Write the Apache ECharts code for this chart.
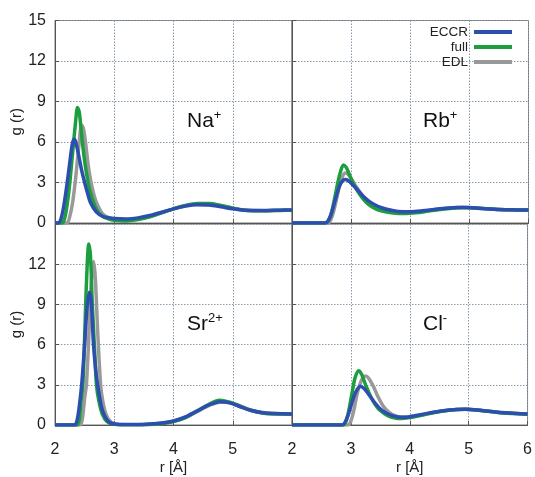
<!DOCTYPE html>
<html><head><meta charset="utf-8">
<script src="https://cdn.jsdelivr.net/npm/echarts@6/dist/echarts.min.js"></script>
<style>html,body{margin:0;padding:0;background:#fff}#c{width:535px;height:477px}</style>
</head><body><div id="c"></div>
<script>
// ---- data: [r (Å), g(r)] ----
const seriesNames = ['ECCR', 'full', 'EDL'];
const panelLabels = ['Na', 'Rb', 'Sr', 'Cl'];
const panelCharges = ['+', '+', '2+', '-'];
const xTicks = [2, 3, 4, 5, 6];
const yTicks = [0, 3, 6, 9, 12, 15];

const na_eccr = [[2.0,0],[2.05,0],[2.1,0.3],[2.15,1.3],[2.2,2.8],[2.25,4.5],[2.29,5.8],[2.32,6.2],[2.35,6.0],[2.4,5.0],[2.45,3.9],[2.5,3.0],[2.55,2.2],[2.6,1.5],[2.7,0.8],[2.8,0.5],[2.9,0.4],[3.0,0.33],[3.2,0.3],[3.4,0.38],[3.6,0.55],[3.8,0.8],[4.0,1.05],[4.2,1.25],[4.4,1.35],[4.6,1.33],[4.8,1.2],[5.0,1.05],[5.2,0.95],[5.5,0.92],[5.8,0.95],[6.0,0.96]];
const na_full = [[2.0,0],[2.12,0],[2.16,0.3],[2.2,1.2],[2.25,3.0],[2.3,5.3],[2.35,7.6],[2.38,8.55],[2.41,8.2],[2.45,6.5],[2.5,4.6],[2.55,3.2],[2.6,2.2],[2.7,1.0],[2.8,0.5],[2.9,0.3],[3.0,0.2],[3.2,0.15],[3.4,0.25],[3.6,0.45],[3.8,0.75],[4.0,1.05],[4.2,1.3],[4.4,1.45],[4.6,1.45],[4.8,1.3],[5.0,1.1],[5.2,0.95],[5.5,0.9],[5.8,0.93],[6.0,0.95]];
const na_edl = [[2.0,0],[2.2,0],[2.25,0.5],[2.3,1.6],[2.35,3.4],[2.4,5.6],[2.45,7.25],[2.48,7.0],[2.52,5.8],[2.56,4.3],[2.6,3.2],[2.65,2.2],[2.7,1.5],[2.8,0.7],[2.9,0.4],[3.0,0.28],[3.2,0.2],[3.4,0.28],[3.6,0.48],[3.8,0.78],[4.0,1.05],[4.2,1.28],[4.4,1.4],[4.6,1.4],[4.8,1.28],[5.0,1.1],[5.2,0.96],[5.5,0.91],[5.8,0.94],[6.0,0.95]];

const rb_eccr = [[2.0,0],[2.55,0],[2.6,0.1],[2.65,0.5],[2.7,1.2],[2.75,2.0],[2.8,2.7],[2.85,3.1],[2.9,3.23],[2.95,3.15],[3.0,2.95],[3.1,2.5],[3.2,2.0],[3.3,1.62],[3.4,1.35],[3.5,1.15],[3.6,1.02],[3.7,0.93],[3.8,0.86],[4.0,0.84],[4.2,0.9],[4.4,1.0],[4.6,1.1],[4.8,1.15],[5.0,1.14],[5.2,1.08],[5.5,1.0],[5.8,0.97],[6.0,0.96]];
const rb_full = [[2.0,0],[2.58,0],[2.62,0.2],[2.67,0.8],[2.72,1.8],[2.77,2.9],[2.82,3.8],[2.87,4.3],[2.92,4.1],[2.97,3.6],[3.05,2.8],[3.15,2.1],[3.25,1.55],[3.35,1.2],[3.45,0.98],[3.6,0.82],[3.75,0.72],[3.9,0.7],[4.1,0.76],[4.3,0.88],[4.5,1.0],[4.7,1.1],[4.9,1.15],[5.1,1.12],[5.3,1.05],[5.6,0.98],[6.0,0.96]];
const rb_edl = [[2.0,0],[2.6,0],[2.65,0.2],[2.7,0.8],[2.75,1.7],[2.8,2.7],[2.85,3.4],[2.9,3.7],[2.95,3.6],[3.0,3.3],[3.1,2.6],[3.2,2.0],[3.3,1.55],[3.4,1.25],[3.5,1.05],[3.65,0.88],[3.8,0.78],[4.0,0.77],[4.2,0.85],[4.4,0.97],[4.6,1.08],[4.8,1.14],[5.0,1.13],[5.2,1.07],[5.5,1.0],[5.8,0.97],[6.0,0.96]];

const sr_eccr = [[2.0,0],[2.33,0],[2.37,0.3],[2.41,1.4],[2.45,3.0],[2.5,6.0],[2.54,8.7],[2.58,9.9],[2.61,9.3],[2.65,6.0],[2.69,4.0],[2.72,3.0],[2.76,1.9],[2.8,1.1],[2.86,0.5],[2.92,0.2],[3.0,0.08],[3.2,0.03],[3.4,0.03],[3.6,0.07],[3.8,0.15],[4.0,0.3],[4.2,0.6],[4.4,1.05],[4.6,1.5],[4.78,1.74],[4.95,1.65],[5.1,1.4],[5.3,1.1],[5.5,0.92],[5.7,0.85],[6.0,0.83]];
const sr_full = [[2.0,0],[2.37,0],[2.41,0.4],[2.44,1.8],[2.47,3.0],[2.5,6.5],[2.53,10.5],[2.57,13.5],[2.6,12.5],[2.63,9.0],[2.67,5.5],[2.7,3.0],[2.74,1.8],[2.8,0.8],[2.88,0.25],[3.0,0.05],[3.2,0.01],[3.4,0.01],[3.6,0.03],[3.8,0.1],[4.0,0.25],[4.2,0.55],[4.4,1.05],[4.6,1.55],[4.78,1.85],[4.95,1.7],[5.1,1.45],[5.3,1.1],[5.5,0.9],[5.7,0.83],[6.0,0.82]];
const sr_edl = [[2.0,0],[2.42,0],[2.46,0.4],[2.5,2.0],[2.53,3.0],[2.57,6.5],[2.61,10.5],[2.65,12.2],[2.68,11.0],[2.72,7.0],[2.77,3.0],[2.81,1.7],[2.87,0.7],[2.95,0.2],[3.05,0.05],[3.2,0.02],[3.4,0.02],[3.6,0.05],[3.8,0.13],[4.0,0.28],[4.2,0.55],[4.4,1.0],[4.6,1.45],[4.8,1.72],[4.98,1.65],[5.15,1.38],[5.3,1.12],[5.5,0.93],[5.7,0.85],[6.0,0.83]];

const cl_eccr = [[2.0,0],[2.85,0],[2.9,0.2],[2.95,0.7],[3.0,1.4],[3.05,2.1],[3.1,2.6],[3.16,2.9],[3.22,2.75],[3.3,2.3],[3.4,1.7],[3.5,1.2],[3.6,0.9],[3.7,0.7],[3.8,0.6],[3.9,0.58],[4.0,0.62],[4.2,0.78],[4.4,0.95],[4.6,1.08],[4.8,1.15],[4.93,1.17],[5.1,1.13],[5.3,1.05],[5.5,0.95],[5.8,0.86],[6.0,0.82]];
const cl_full = [[2.0,0],[2.87,0],[2.92,0.3],[2.97,1.2],[3.02,2.4],[3.07,3.5],[3.13,4.05],[3.18,3.8],[3.25,3.0],[3.35,2.0],[3.45,1.3],[3.55,0.9],[3.65,0.65],[3.75,0.52],[3.85,0.48],[4.0,0.55],[4.2,0.72],[4.4,0.92],[4.6,1.07],[4.8,1.15],[4.95,1.17],[5.1,1.13],[5.3,1.04],[5.5,0.94],[5.8,0.85],[6.0,0.82]];
const cl_edl = [[2.0,0],[2.95,0],[3.0,0.3],[3.05,1.1],[3.1,2.2],[3.15,3.0],[3.2,3.5],[3.25,3.65],[3.3,3.5],[3.38,2.9],[3.45,2.2],[3.55,1.4],[3.65,0.95],[3.75,0.7],[3.85,0.6],[4.0,0.6],[4.2,0.75],[4.4,0.93],[4.6,1.07],[4.8,1.15],[4.95,1.17],[5.1,1.13],[5.3,1.04],[5.5,0.94],[5.8,0.85],[6.0,0.82]];

const panels = [
  [na_eccr, na_full, na_edl],
  [rb_eccr, rb_full, rb_edl],
  [sr_eccr, sr_full, sr_edl],
  [cl_eccr, cl_full, cl_edl]
];

// ---- styles / layout ----
const colors = ['#2b4eaf', '#1c9e3e', '#999999'];
const grids = [
  {left: 55, top: 20.5, width: 237, height: 202.5},
  {left: 292, top: 20.5, width: 236.5, height: 202.5},
  {left: 55, top: 224, width: 237, height: 201},
  {left: 292, top: 224, width: 236.5, height: 201}
];
const labelPos = [[187, 121], [423, 121], [187, 324], [423, 324]];
const font = 'Liberation Sans, Arial, sans-serif';

const chart = echarts.init(document.getElementById('c'), null, {renderer: 'canvas'});

const xAxes = [], yAxes = [], series = [], graphics = [];
grids.forEach((g, i) => {
  const bottom = i >= 2, left = i % 2 === 0;
  xAxes.push({
    type: 'value', gridIndex: i, min: xTicks[0], max: xTicks[xTicks.length - 1], interval: 1,
    axisLine: {show: true, lineStyle: {color: '#555', width: 1}},
    axisTick: {show: true, inside: true, length: 4, lineStyle: {color: '#555'}},
    splitLine: {show: true, lineStyle: {color: '#8a9aac', type: [1.5, 1.5], width: 1}},
    axisLabel: {
      show: bottom, margin: 17, color: '#222', fontSize: 16, fontFamily: font,
      formatter: v => (left && v === 6) ? '' : String(v)
    },
    name: bottom ? 'r [Å]' : '', nameLocation: 'middle', nameGap: 35,
    nameTextStyle: {color: '#222', fontSize: 15, fontFamily: font}
  });
  yAxes.push({
    type: 'value', gridIndex: i, min: yTicks[0], max: yTicks[yTicks.length - 1], interval: 3,
    axisLine: {show: true, lineStyle: {color: '#555', width: 1}},
    axisTick: {show: true, inside: true, length: 4, lineStyle: {color: '#555'}},
    splitLine: {show: true, lineStyle: {color: '#8a9aac', type: [1.5, 1.5], width: 1}},
    axisLabel: {
      show: left, margin: 9, color: '#222', fontSize: 16, fontFamily: font,
      formatter: v => (bottom && v === 15) ? '' : String(v)
    },
    name: left ? 'g (r)' : '', nameLocation: 'middle', nameGap: 31,
    nameTextStyle: {color: '#222', fontSize: 15, fontFamily: font}
  });
  // draw order: EDL, full, ECCR on top
  [2, 1, 0].forEach(k => {
    series.push({
      type: 'line', name: seriesNames[k], xAxisIndex: i, yAxisIndex: i,
      data: panels[i][k], showSymbol: false, symbol: 'none',
      smooth: 0.3,
      lineStyle: {color: colors[k], width: 3.5},
      itemStyle: {color: colors[k]},
      z: 3 + (2 - k), silent: true, animation: false
    });
  });
  graphics.push({
    type: 'text', left: labelPos[i][0], top: labelPos[i][1] - 12,
    style: {
      text: '{a|' + panelLabels[i] + '}{b|' + panelCharges[i] + '}',
      rich: {
        a: {fontSize: 21, fontFamily: font, fill: '#111', color: '#111', verticalAlign: 'middle', lineHeight: 24},
        b: {fontSize: 13, fontFamily: font, fill: '#111', color: '#111', verticalAlign: 'top', lineHeight: 14}
      }
    }
  });
});

chart.setOption({
  animation: false,
  backgroundColor: '#fff',
  grid: grids.map(g => Object.assign({show: true, borderColor: '#777', borderWidth: 1, containLabel: false}, g)),
  xAxis: xAxes,
  yAxis: yAxes,
  series: series,
  legend: {
    data: seriesNames.map((n, k) => ({name: n, icon: 'rect', itemStyle: {color: colors[k]}})),
    orient: 'vertical', right: 18, top: 20, align: 'right',
    itemWidth: 38, itemHeight: 4, itemGap: 1,
    textStyle: {color: '#222', fontSize: 13.5, fontFamily: font, lineHeight: 14, padding: [0, 1, 0, 0]},
    selectedMode: false
  },
  graphic: graphics
});
</script></body></html>
